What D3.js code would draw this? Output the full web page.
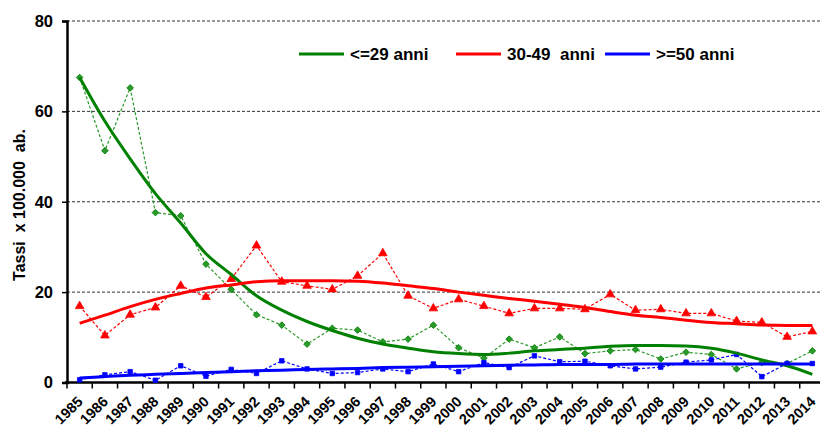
<!DOCTYPE html>
<html>
<head>
<meta charset="utf-8">
<script src="https://cdn.jsdelivr.net/npm/d3@7"></script>
<style>
    body { margin: 0; background: #fff; }
    svg { display: block; font-family: "Liberation Sans", Arial, sans-serif; }
</style>
</head>
<body>
<div id="chart"></div>
<script>
// Data
const years = d3.range(1985, 2015).map(String);
const yTicks = [0, 20, 40, 60, 80];

const young = [67.5, 51.3, 65.2, 37.6, 36.9, 26.2, 20.6, 15.0, 12.7, 8.5,
    12.0, 11.6, 9.0, 9.6, 12.7, 7.7, 5.4, 9.6, 7.7, 10.1,
    6.4, 7.0, 7.3, 5.2, 6.7, 6.2, 3.0, 4.4, 4.2, 7.0];
const middle = [16.9, 10.4, 15.0, 16.6, 21.4, 18.9, 22.9, 30.3, 22.3, 21.4,
    20.6, 23.6, 28.6, 19.2, 16.4, 18.4, 16.9, 15.3, 16.4, 16.4,
    16.2, 19.5, 16.0, 16.2, 15.3, 15.3, 13.6, 13.3, 10.1, 11.3];
const older = [0.6, 1.7, 2.4, 0.5, 3.7, 1.4, 2.9, 2.0, 4.8, 3.0,
    2.0, 2.2, 3.0, 2.4, 4.1, 2.4, 4.4, 3.3, 5.9, 4.6,
    4.7, 3.7, 3.0, 3.4, 4.5, 5.0, 6.2, 1.3, 4.2, 4.2];

// trend lines as drawn in the reference
const youngTrend = [67.5, 57.8, 49.5, 41.8, 35.3, 28.5, 23.9, 19.2, 16.0, 13.5,
    11.5, 9.8, 8.5, 7.6, 6.8, 6.4, 6.2, 6.5, 7.0, 7.3,
    7.6, 8.0, 8.2, 8.2, 8.1, 7.6, 6.5, 5.0, 3.7, 1.8];
const middleTrend = [13.1, 14.9, 16.8, 18.4, 19.7, 20.9, 21.6, 22.3, 22.5, 22.5,
    22.5, 22.4, 22.0, 21.4, 20.8, 20.0, 19.3, 18.6, 18.0, 17.3,
    16.6, 15.7, 14.9, 14.4, 13.8, 13.3, 13.0, 12.7, 12.6, 12.6];
const olderTrend = [1.0, 1.3, 1.6, 1.8, 2.0, 2.2, 2.4, 2.6, 2.7, 2.9,
    3.0, 3.1, 3.3, 3.4, 3.5, 3.6, 3.7, 3.8, 3.9, 4.0,
    4.0, 4.0, 4.1, 4.1, 4.1, 4.1, 4.1, 4.1, 4.1, 4.1];

const seriesNames = ['<=29 anni', '30-49  anni', '>=50 anni'];

const width = 820, height = 426;
const svg = d3.select('#chart').append('svg')
    .attr('width', width)
    .attr('height', height);

const x = d3.scaleBand().domain(years).range([67, 825]);
const y = d3.scaleLinear().domain([0, 80]).range([382.5, 21]);
const cx = d => x(d) + x.bandwidth() / 2;

// gridlines
svg.append('g')
    .selectAll('line')
    .data(yTicks.filter(v => v > 0))
    .join('line')
    .attr('x1', 67).attr('x2', 825)
    .attr('y1', d => y(d)).attr('y2', d => y(d))
    .attr('stroke', '#333')
    .attr('stroke-width', 1)
    .attr('stroke-dasharray', '3,2');

// y axis
const yAxis = svg.append('g')
    .attr('transform', 'translate(67,0)')
    .call(d3.axisLeft(y).tickValues(yTicks).tickSize(5).tickPadding(9));
yAxis.select('.domain').attr('stroke', '#000').attr('stroke-width', 2.5);
yAxis.selectAll('.tick line').attr('stroke', '#000').attr('stroke-width', 1.5);
yAxis.selectAll('.tick text')
    .attr('font-size', 16.5).attr('font-weight', 'bold').attr('fill', '#000')
    .attr('font-family', '"Liberation Sans", Arial, sans-serif');

// x axis
const xAxis = svg.append('g')
    .attr('transform', `translate(0,${y(0)})`);
xAxis.append('line')
    .attr('x1', 65).attr('x2', 825)
    .attr('stroke', '#000').attr('stroke-width', 2.5);
xAxis.selectAll('.xtick')
    .data(years)
    .join('line')
    .attr('class', 'xtick')
    .attr('x1', d => x(d)).attr('x2', d => x(d))
    .attr('y1', 0).attr('y2', 6)
    .attr('stroke', '#000').attr('stroke-width', 1.5);
xAxis.selectAll('.xlabel')
    .data(years)
    .join('text')
    .attr('class', 'xlabel')
    .attr('text-anchor', 'end')
    .attr('font-size', 14.5)
    .attr('font-weight', 'bold')
    .attr('transform', d => `translate(${cx(d) + 4},${20}) rotate(-45)`)
    .text(d => d);

// y title
svg.append('text')
    .attr('transform', 'translate(25,205) rotate(-90)')
    .attr('text-anchor', 'middle')
    .attr('font-size', 16)
    .attr('font-weight', 'bold')
    .attr('xml:space', 'preserve')
    .text('Tassi  x 100.000  ab.');

const series = [
    { values: young, trend: youngTrend, color: '#008000', marker: '#2a9a2a', shape: d3.symbolSquare, size: 22, rot: 45 },
    { values: middle, trend: middleTrend, color: '#ff0000', marker: '#ff0000', shape: d3.symbolTriangle, size: 32, rot: 0 },
    { values: older, trend: olderTrend, color: '#0000ff', marker: '#0000ff', shape: d3.symbolSquare, size: 20, rot: 0 }
];

const line = d3.line()
    .x((d, i) => cx(years[i]))
    .y(d => y(d));

const plot = svg.append('g');

// dashed observed series
series.forEach(s => {
    plot.append('path')
        .datum(s.values)
        .attr('fill', 'none')
        .attr('stroke', s.marker)
        .attr('stroke-width', 1.2)
        .attr('stroke-dasharray', '3,2')
        .attr('d', line);
});

// markers
series.forEach(s => {
    plot.append('g')
        .selectAll('path')
        .data(s.values)
        .join('path')
        .attr('transform', (d, i) => `translate(${cx(years[i])},${y(d)}) rotate(${s.rot})`)
        .attr('d', d3.symbol().type(s.shape).size(s.size))
        .attr('fill', s.marker)
        .attr('stroke', s.color)
        .attr('stroke-width', 0.8);
});

// trend lines
const trendLine = d3.line()
    .x((d, i) => cx(years[i]))
    .y(d => y(d))
    .curve(d3.curveMonotoneX);
series.forEach(s => {
    plot.append('path')
        .datum(s.trend)
        .attr('fill', 'none')
        .attr('stroke', s.color)
        .attr('stroke-width', 3)
        .attr('stroke-linejoin', 'round')
        .attr('d', trendLine);
});

// legend
const legendX = [299, 456, 605];
const legend = svg.append('g');
series.forEach((s, i) => {
    legend.append('line')
        .attr('x1', legendX[i]).attr('x2', legendX[i] + 45)
        .attr('y1', 54).attr('y2', 54)
        .attr('stroke', s.color)
        .attr('stroke-width', 3);
    legend.append('text')
        .attr('x', legendX[i] + 51)
        .attr('y', 60)
        .attr('font-size', 17)
        .attr('font-weight', 'bold')
        .attr('xml:space', 'preserve')
        .text(seriesNames[i]);
});
</script>
</body>
</html>
